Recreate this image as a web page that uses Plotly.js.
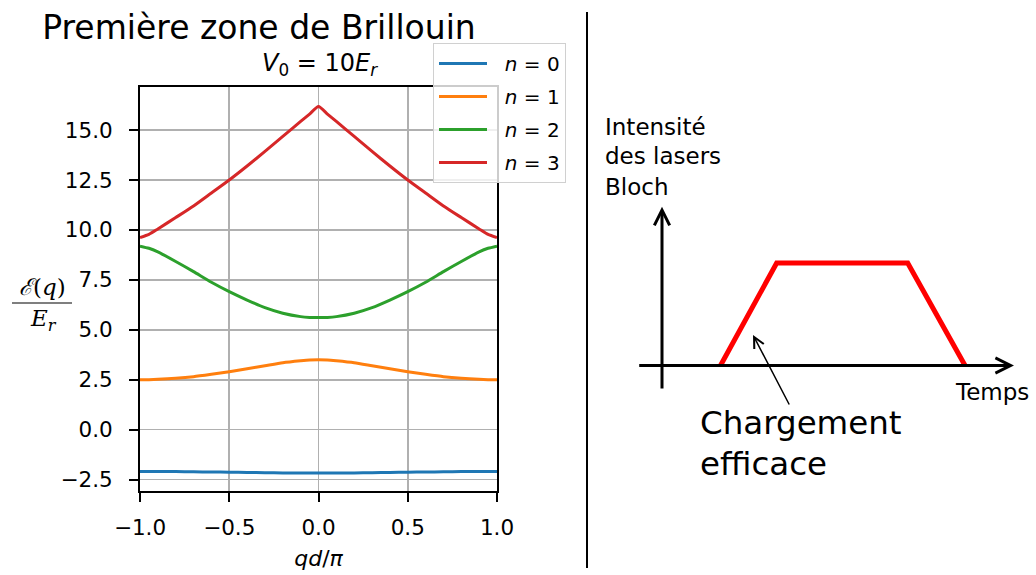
<!DOCTYPE html>
<html>
<head>
<meta charset="utf-8">
<script src="https://cdn.plot.ly/plotly-3.0.1.min.js"></script>
<style>html,body{margin:0;padding:0;background:#fff;}</style>
</head>
<body>
<div id="chart" style="width:1036px;height:575px;"></div>
<script>
// ---- band structure data, V0 = 10 Er ----
const qd = [-1, -0.95, -0.9, -0.8, -0.7, -0.6, -0.5, -0.4, -0.3, -0.2, -0.1, -0.05, 0,
            0.05, 0.1, 0.2, 0.3, 0.4, 0.5, 0.6, 0.7, 0.8, 0.9, 0.95, 1];
const band0 = [-2.09, -2.091, -2.092, -2.10, -2.11, -2.12, -2.13, -2.145, -2.155, -2.163, -2.168, -2.17, -2.17,
               -2.17, -2.168, -2.163, -2.155, -2.145, -2.13, -2.12, -2.11, -2.10, -2.092, -2.091, -2.09];
const band1 = [2.50, 2.505, 2.52, 2.57, 2.65, 2.77, 2.90, 3.05, 3.20, 3.35, 3.45, 3.49, 3.50,
               3.49, 3.45, 3.35, 3.20, 3.05, 2.90, 2.77, 2.65, 2.57, 2.52, 2.505, 2.50];
const band2 = [9.19, 9.08, 8.90, 8.42, 7.91, 7.38, 6.91, 6.49, 6.11, 5.83, 5.66, 5.62, 5.61,
               5.62, 5.66, 5.83, 6.11, 6.49, 6.91, 7.38, 7.91, 8.42, 8.90, 9.08, 9.19];
const band3 = [9.62, 9.78, 10.05, 10.62, 11.20, 11.85, 12.50, 13.20, 13.93, 14.68, 15.43, 15.80, 16.18,
               15.80, 15.43, 14.68, 13.93, 13.20, 12.50, 11.85, 11.20, 10.62, 10.05, 9.78, 9.62];
const bandNames = ['\u00a0\u00a0<i>n</i> = 0', '\u00a0\u00a0<i>n</i> = 1', '\u00a0\u00a0<i>n</i> = 2', '\u00a0\u00a0<i>n</i> = 3'];
const bandColors = ['#1f77b4', '#ff7f0e', '#2ca02c', '#d62728'];
const yTicks = [-2.5, 0, 2.5, 5, 7.5, 10, 12.5, 15];
const xTicks = [-1, -0.5, 0, 0.5, 1];

// ---- schematic: Bloch laser intensity vs time ----
const pulseTime = [1, 1.96, 4.2, 5.18];
const pulseIntensity = [0, 1, 1, 0];

const W = 1036, H = 575;
const px = v => v / W;
const py = v => 1 - v / H;
const FONT = 'DejaVu Sans, sans-serif';

const bands = [band0, band1, band2, band3];
const traces = bands.map((b, i) => ({
  x: qd, y: b, type: 'scatter', mode: 'lines',
  name: bandNames[i], legendgroup: 'g' + i,
  line: {color: bandColors[i], width: 3, shape: 'spline', smoothing: 0.6},
  xaxis: 'x', yaxis: 'y', hoverinfo: 'skip'
}));
traces.push({
  x: pulseTime, y: pulseIntensity, type: 'scatter', mode: 'lines',
  line: {color: '#ff0000', width: 5}, showlegend: false,
  xaxis: 'x2', yaxis: 'y2', hoverinfo: 'skip'
});

const axisCommon = {
  showline: true, mirror: true, linecolor: '#000', linewidth: 2,
  ticks: 'outside', ticklen: 9, tickwidth: 2, tickcolor: '#000',
  showgrid: true, gridcolor: '#b0b0b0', gridwidth: 1.6, zeroline: false,
  tickfont: {family: FONT, size: 21.5, color: '#000'}, tickformat: '.1f',
  automargin: false, fixedrange: true
};

const layout = {
  width: W, height: H,
  margin: {l: 0, r: 0, t: 0, b: 0},
  paper_bgcolor: '#fff', plot_bgcolor: '#fff',
  font: {family: FONT, color: '#000'},
  title: {text: 'Première zone de Brillouin', x: px(259), xanchor: 'center',
          y: py(27), yanchor: 'middle', yref: 'container',
          font: {family: FONT, size: 33, color: '#000'}},
  xaxis: Object.assign({}, axisCommon, {
    domain: [px(140), px(497)], range: [-1, 1],
    tickmode: 'array', tickvals: xTicks, ticklabelstandoff: 7,
    title: {text: '<i>qd</i>/<i>π</i>', font: {family: FONT, size: 22, color: '#000'}, standoff: 12}
  }),
  yaxis: Object.assign({}, axisCommon, {
    domain: [py(491), py(87.3)], range: [-3.07, 17.14],
    tickmode: 'array', tickvals: yTicks, ticklabelstandoff: 12
  }),
  xaxis2: {domain: [px(600), 1], range: [-1.0598, 6.3932], visible: false, fixedrange: true},
  yaxis2: {domain: [py(480), py(120)], range: [-1.117, 2.3951], visible: false, fixedrange: true},
  showlegend: true,
  legend: {
    x: px(433), y: py(43), xanchor: 'left', yanchor: 'top',
    bgcolor: 'rgba(255,255,255,0.8)', bordercolor: '#d0d0d0', borderwidth: 1,
    font: {family: FONT, size: 20, color: '#000'},
    tracegroupgap: 4, itemwidth: 48
  },
  shapes: [
    {type: 'line', xref: 'paper', yref: 'paper', x0: px(587), x1: px(587), y0: py(12), y1: py(568),
     line: {color: '#000', width: 2}},
    {type: 'line', xref: 'paper', yref: 'paper', x0: px(12), x1: px(72), y0: py(303), y1: py(303),
     line: {color: '#000', width: 1.2}}
  ],
  annotations: [
    {text: '<i>V</i><sub>0</sub> = 10<i>E</i><sub><i>r</i></sub>', xref: 'paper', yref: 'paper',
     x: px(320), y: py(64), xanchor: 'center', yanchor: 'middle', showarrow: false,
     font: {family: FONT, size: 24, color: '#000'}},
    {text: '<i>ℰ</i>(<i>q</i>)', xref: 'paper', yref: 'paper', x: px(42), y: py(287),
     xanchor: 'center', yanchor: 'middle', showarrow: false,
     font: {family: 'DejaVu Serif, serif', size: 23, color: '#000'}},
    {text: '<i>E<sub>r</sub></i>', xref: 'paper', yref: 'paper', x: px(43), y: py(320),
     xanchor: 'center', yanchor: 'middle', showarrow: false,
     font: {family: 'DejaVu Serif, serif', size: 23, color: '#000'}},
    // schematic texts
    {text: 'Intensité', xref: 'paper', yref: 'paper', x: px(603), y: py(127),
     xanchor: 'left', yanchor: 'middle', showarrow: false, font: {family: FONT, size: 23, color: '#000'}},
    {text: 'des lasers', xref: 'paper', yref: 'paper', x: px(603), y: py(156),
     xanchor: 'left', yanchor: 'middle', showarrow: false, font: {family: FONT, size: 23, color: '#000'}},
    {text: 'Bloch', xref: 'paper', yref: 'paper', x: px(603), y: py(187),
     xanchor: 'left', yanchor: 'middle', showarrow: false, font: {family: FONT, size: 23, color: '#000'}},
    {text: 'Temps', xref: 'paper', yref: 'paper', x: px(991.5), y: py(392),
     xanchor: 'center', yanchor: 'middle', showarrow: false, font: {family: FONT, size: 23, color: '#000'}},
    {text: 'Chargement', xref: 'paper', yref: 'paper', x: px(698), y: py(423),
     xanchor: 'left', yanchor: 'middle', showarrow: false, font: {family: FONT, size: 32.5, color: '#000'}},
    {text: 'efficace', xref: 'paper', yref: 'paper', x: px(698), y: py(464),
     xanchor: 'left', yanchor: 'middle', showarrow: false, font: {family: FONT, size: 32.5, color: '#000'}},
    // schematic axes (arrows)
    {text: '', xref: 'x2', yref: 'y2', axref: 'x2', ayref: 'y2',
     x: 0, y: 1.549, ax: 0, ay: -0.239, showarrow: true,
     arrowhead: 5, arrowsize: 1, arrowwidth: 3, arrowcolor: '#000', standoff: 0, startstandoff: 0},
    {text: '', xref: 'x2', yref: 'y2', axref: 'x2', ayref: 'y2',
     x: 6.017, y: 0, ax: -0.415, ay: 0, showarrow: true,
     arrowhead: 5, arrowsize: 1, arrowwidth: 3, arrowcolor: '#000', standoff: 0, startstandoff: 0},
    {text: '', xref: 'x2', yref: 'y2', axref: 'x2', ayref: 'y2',
     x: 1.556, y: 0.298, ax: 2.188, ay: -0.395, showarrow: true,
     arrowhead: 5, arrowsize: 1.4, arrowwidth: 1.5, arrowcolor: '#000', standoff: 0, startstandoff: 0}
  ]
};

Plotly.newPlot('chart', traces, layout, {staticPlot: true, displayModeBar: false});
</script>
</body>
</html>
